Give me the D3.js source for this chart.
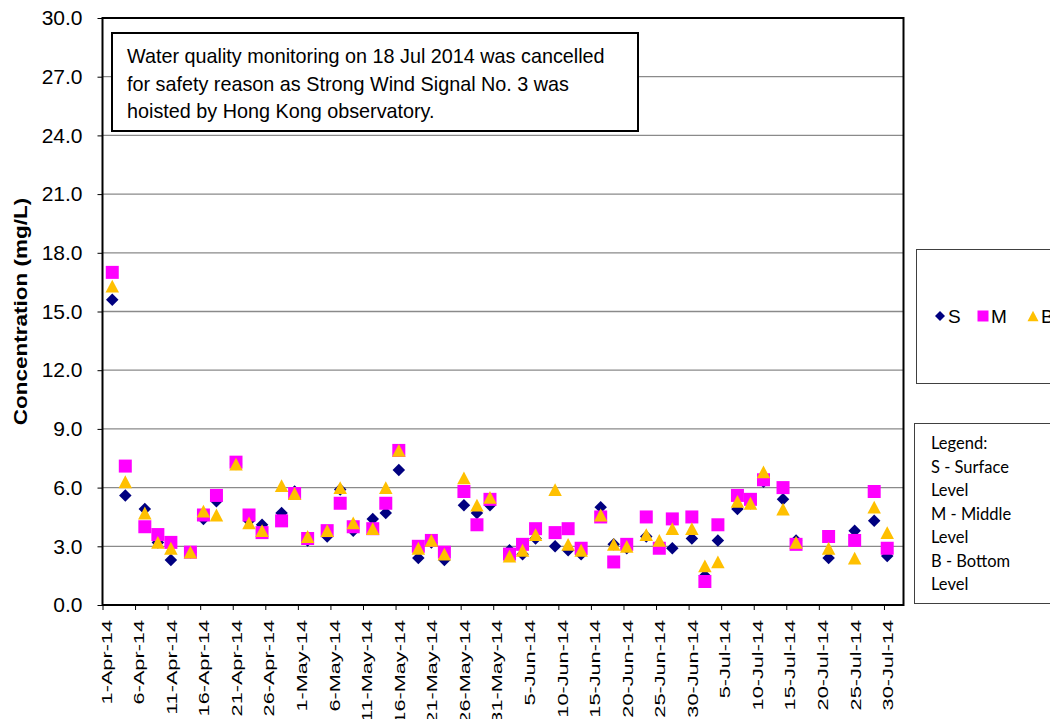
<!DOCTYPE html>
<html>
<head>
<meta charset="utf-8">
<script src="https://cdn.jsdelivr.net/npm/d3@7"></script>
<style>
  body { margin: 0; background: #fff; }
  svg { display: block; font-family: "Liberation Sans", Arial, sans-serif; }
</style>
</head>
<body>
<div id="chart"></div>
<script>
'use strict';
// sampling dates (Mon / Wed / Fri), 18 Jul cancelled
const sampleDates = ["2-Apr-14", "4-Apr-14", "7-Apr-14", "9-Apr-14", "11-Apr-14", "14-Apr-14", "16-Apr-14",
    "18-Apr-14", "21-Apr-14", "23-Apr-14", "25-Apr-14", "28-Apr-14", "30-Apr-14", "2-May-14", "5-May-14",
    "7-May-14", "9-May-14", "12-May-14", "14-May-14", "16-May-14", "19-May-14", "21-May-14", "23-May-14",
    "26-May-14", "28-May-14", "30-May-14", "2-Jun-14", "4-Jun-14", "6-Jun-14", "9-Jun-14", "11-Jun-14",
    "13-Jun-14", "16-Jun-14", "18-Jun-14", "20-Jun-14", "23-Jun-14", "25-Jun-14", "27-Jun-14", "30-Jun-14",
    "2-Jul-14", "4-Jul-14", "7-Jul-14", "9-Jul-14", "11-Jul-14", "14-Jul-14", "16-Jul-14", "21-Jul-14",
    "25-Jul-14", "28-Jul-14", "30-Jul-14"];
// S - surface level
const surface = [15.6, 5.6, 4.9, 3.2, 2.3, 2.7, 4.4, 5.3, 7.2, 4.3, 4.1, 4.7, 5.8, 3.3, 3.5, 5.9, 3.8, 4.4,
    4.7, 6.9, 2.4, 3.2, 2.3, 5.1, 4.7, 5.1, 2.8, 2.6, 3.4, 3.0, 2.8, 2.6, 5.0, 3.1, 2.9, 3.5, 3.1, 2.9, 3.4,
    1.5, 3.3, 4.9, 5.2, 6.3, 5.4, 3.3, 2.4, 3.8, 4.3, 2.5];
// M - middle level
const middle = [17.0, 7.1, 4.0, 3.6, 3.2, 2.7, 4.6, 5.6, 7.3, 4.6, 3.7, 4.3, 5.7, 3.4, 3.8, 5.2, 4.0, 3.9,
    5.2, 7.9, 3.0, 3.3, 2.7, 5.8, 4.1, 5.4, 2.6, 3.1, 3.9, 3.7, 3.9, 2.9, 4.5, 2.2, 3.1, 4.5, 2.9, 4.4, 4.5,
    1.2, 4.1, 5.6, 5.4, 6.4, 6.0, 3.1, 3.5, 3.3, 5.8, 2.9];
// B - bottom level
const bottom = [16.3, 6.3, 4.7, 3.2, 2.9, 2.7, 4.8, 4.6, 7.2, 4.2, 3.8, 6.1, 5.7, 3.5, 3.8, 6.0, 4.2, 3.9,
    6.0, 7.9, 2.9, 3.3, 2.6, 6.5, 5.1, 5.5, 2.5, 2.8, 3.6, 5.9, 3.1, 2.8, 4.6, 3.1, 3.0, 3.6, 3.3, 3.9, 3.9,
    2.0, 2.2, 5.3, 5.2, 6.8, 4.9, 3.2, 2.9, 2.4, 5.0, 3.7];
const tickLabels = ["1-Apr-14", "6-Apr-14", "11-Apr-14", "16-Apr-14", "21-Apr-14", "26-Apr-14", "1-May-14",
    "6-May-14", "11-May-14", "16-May-14", "21-May-14", "26-May-14", "31-May-14", "5-Jun-14", "10-Jun-14",
    "15-Jun-14", "20-Jun-14", "25-Jun-14", "30-Jun-14", "5-Jul-14", "10-Jul-14", "15-Jul-14", "20-Jul-14",
    "25-Jul-14", "30-Jul-14"];
const axisStart = "1-Apr-14";
const axisEnd = "2-Aug-14";
const yTicks = [0, 3, 6, 9, 12, 15, 18, 21, 24, 27, 30];
const seriesNames = ["S", "M", "B"];
const noteLines = ["Water quality monitoring on 18 Jul 2014 was cancelled",
    "for safety reason as Strong Wind Signal No. 3 was",
    "hoisted by Hong Kong observatory."];
const legendLines = ["Legend:", "S - Surface", "Level", "M - Middle", "Level", "B - Bottom", "Level"];

const W = 1050, H = 719;
const plot = {left: 102.5, right: 903.5, top: 18, bottom: 605};
const colors = {S: "#000080", M: "#FF00FF", B: "#FFC000"};

const parseDate = d3.utcParse("%d-%b-%y");

const svg = d3.select("#chart").append("svg")
    .attr("width", W)
    .attr("height", H);

const x = d3.scaleUtc()
    .domain([parseDate(axisStart), parseDate(axisEnd)])
    .range([plot.left, plot.right]);
const y = d3.scaleLinear()
    .domain([0, 30])
    .range([plot.bottom, plot.top]);
const halfDay = (x(parseDate("2-Apr-14")) - x(parseDate("1-Apr-14"))) / 2;

// excel-like marker shapes, size = pixel width
const markerTypes = {
    S: {draw: function(ctx, s) {
        const r = s / 2;
        ctx.moveTo(0, -r); ctx.lineTo(r, 0); ctx.lineTo(0, r); ctx.lineTo(-r, 0); ctx.closePath();
    }},
    M: {draw: function(ctx, s) {
        const r = s / 2;
        ctx.moveTo(-r, -r); ctx.lineTo(r, -r); ctx.lineTo(r, r); ctx.lineTo(-r, r); ctx.closePath();
    }},
    B: {draw: function(ctx, s) {
        const r = s / 2;
        ctx.moveTo(0, -r * 0.95); ctx.lineTo(r, r * 0.95); ctx.lineTo(-r, r * 0.95); ctx.closePath();
    }}
};
const markerSize = {S: 12.5, M: 13, B: 13.5};

// gridlines
svg.append("g")
    .selectAll("line")
    .data(yTicks.filter(function(d) { return d > 0 && d < 30; }))
    .enter().append("line")
    .attr("x1", plot.left).attr("x2", plot.right)
    .attr("y1", function(d) { return y(d); })
    .attr("y2", function(d) { return y(d); })
    .attr("stroke", "#8a8a8a")
    .attr("stroke-width", 1.3);

// y axis
const yAxis = svg.append("g")
    .attr("transform", "translate(" + plot.left + ",0)")
    .call(d3.axisLeft(y).tickValues(yTicks).tickFormat(d3.format(".1f")).tickSize(5).tickPadding(15));
yAxis.select(".domain").remove();
yAxis.selectAll("line").attr("stroke", "#000").attr("stroke-width", 1);
yAxis.selectAll("text")
    .attr("font-size", 21)
    .attr("fill", "#000")
    .style("font-family", "'Liberation Sans', Arial, sans-serif");

// x axis
const xAxis = svg.append("g")
    .attr("transform", "translate(0," + plot.bottom + ")")
    .call(d3.axisBottom(x).tickValues(tickLabels.map(parseDate)).tickSize(5)
        .tickFormat(function(d, i) { return tickLabels[i]; }));
xAxis.select(".domain").remove();
xAxis.selectAll("line").attr("stroke", "#000").attr("stroke-width", 1);
xAxis.selectAll("text")
    .attr("y", null)
    .attr("dy", "0.35em")
    .attr("text-anchor", "end")
    .attr("font-size", 15.5)
    .attr("fill", "#000")
    .style("font-family", "'Liberation Sans', Arial, sans-serif")
    .attr("transform", "translate(" + halfDay + ",15) rotate(-90) scale(1.4,1)");

// plot border
svg.append("rect")
    .attr("x", plot.left).attr("y", plot.top)
    .attr("width", plot.right - plot.left)
    .attr("height", plot.bottom - plot.top)
    .attr("fill", "none")
    .attr("stroke", "#000")
    .attr("stroke-width", 2);

// y axis title
svg.append("text")
    .attr("transform", "translate(27," + ((plot.top + plot.bottom) / 2) + ") rotate(-90) scale(1.25,1)")
    .attr("text-anchor", "middle")
    .attr("font-size", 18)
    .attr("font-weight", "bold")
    .text("Concentration (mg/L)");

// markers: S first, then M, then B on top
const series = [
    {name: "S", values: surface},
    {name: "M", values: middle},
    {name: "B", values: bottom}
];
series.forEach(function(s) {
    svg.append("g")
        .attr("class", "series-" + s.name)
        .selectAll("path")
        .data(s.values)
        .enter().append("path")
        .attr("d", d3.symbol().type(markerTypes[s.name]).size(markerSize[s.name]))
        .attr("transform", function(d, i) {
            const px = x(parseDate(sampleDates[i])) + halfDay;
            return "translate(" + px + "," + y(d) + ")";
        })
        .attr("fill", colors[s.name]);
});

// note box
const note = svg.append("g");
note.append("rect")
    .attr("x", 112).attr("y", 33)
    .attr("width", 526).attr("height", 98)
    .attr("fill", "#fff")
    .attr("stroke", "#000")
    .attr("stroke-width", 2);
note.selectAll("text")
    .data(noteLines)
    .enter().append("text")
    .attr("x", 127)
    .attr("y", function(d, i) { return 63 + i * 27.5; })
    .attr("font-size", 19.8)
    .text(function(d) { return d; });

// series legend
const leg = svg.append("g");
leg.append("rect")
    .attr("x", 916.5).attr("y", 249.5)
    .attr("width", 140).attr("height", 134)
    .attr("fill", "#fff")
    .attr("stroke", "#404040")
    .attr("stroke-width", 1);
const legX = [940, 983, 1033];
seriesNames.forEach(function(n, i) {
    leg.append("path")
        .attr("d", d3.symbol().type(markerTypes[n]).size(n === "S" ? 10 : 11))
        .attr("transform", "translate(" + legX[i] + ",316)")
        .attr("fill", colors[n]);
    leg.append("text")
        .attr("x", legX[i] + 8)
        .attr("y", 323)
        .attr("font-size", 19)
        .text(n);
});

// text legend
const leg2 = svg.append("g");
leg2.append("rect")
    .attr("x", 914.5).attr("y", 423.5)
    .attr("width", 140).attr("height", 180)
    .attr("fill", "#fff")
    .attr("stroke", "#404040")
    .attr("stroke-width", 1);
leg2.selectAll("text")
    .data(legendLines)
    .enter().append("text")
    .attr("x", 931)
    .attr("y", function(d, i) { return 449 + i * 23.5; })
    .attr("font-size", 16.5)
    .style("font-family", "Lato, 'Open Sans', sans-serif")
    .text(function(d) { return d; });
</script>
</body>
</html>
